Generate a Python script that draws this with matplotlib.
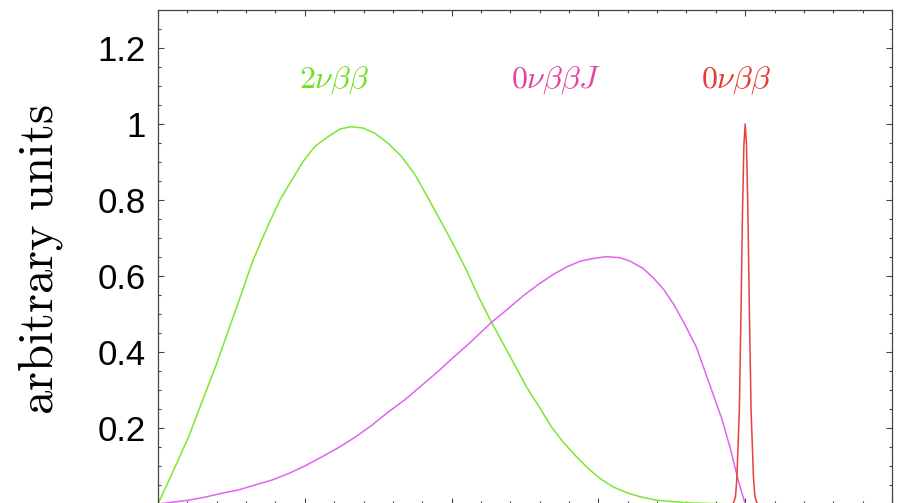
import numpy as np
import matplotlib
matplotlib.use('Agg')
import matplotlib.pyplot as plt
from matplotlib.ticker import MultipleLocator, FuncFormatter

plt.rcParams['mathtext.fontset'] = 'cm'

# energy in units of Q
t_2nu = [0.0, 0.023, 0.052, 0.074, 0.100, 0.131, 0.162, 0.188, 0.208, 0.228, 0.247,
         0.267, 0.290, 0.310, 0.330, 0.350, 0.370, 0.392, 0.415, 0.438, 0.460, 0.483,
         0.503, 0.526, 0.545, 0.568, 0.599, 0.628, 0.651, 0.670, 0.690, 0.713, 0.733,
         0.753, 0.775, 0.798, 0.821, 0.849, 0.900, 0.950, 1.0]
y_2nu = [0.0, 0.077, 0.176, 0.265, 0.370, 0.505, 0.642, 0.735, 0.801, 0.853, 0.901,
         0.941, 0.967, 0.987, 0.993, 0.989, 0.975, 0.949, 0.914, 0.866, 0.805, 0.740,
         0.683, 0.613, 0.548, 0.478, 0.390, 0.307, 0.251, 0.203, 0.163, 0.124, 0.093,
         0.067, 0.045, 0.030, 0.019, 0.010, 0.003, 0.001, 0.0]

t_maj = [0.0, 0.052, 0.080, 0.108, 0.137, 0.165, 0.194, 0.222, 0.250, 0.279, 0.307,
         0.336, 0.364, 0.392, 0.421, 0.449, 0.477, 0.503, 0.526, 0.548, 0.568, 0.594,
         0.622, 0.648, 0.673, 0.696, 0.719, 0.741, 0.764, 0.787, 0.804, 0.826, 0.843,
         0.861, 0.878, 0.897, 0.917, 0.937, 0.960, 0.974, 0.988, 1.0]
y_maj = [0.0, 0.010, 0.018, 0.028, 0.037, 0.050, 0.063, 0.080, 0.100, 0.124, 0.148,
         0.176, 0.207, 0.242, 0.275, 0.312, 0.349, 0.386, 0.417, 0.449, 0.478, 0.511,
         0.548, 0.578, 0.604, 0.624, 0.639, 0.646, 0.651, 0.648, 0.639, 0.620, 0.596,
         0.565, 0.526, 0.473, 0.412, 0.325, 0.225, 0.150, 0.063, 0.0]

t_0nu = [0.975, 0.980, 0.9835, 0.9859, 0.9900, 0.9928, 0.9954, 0.9978, 1.0, 1.0022,
         1.0046, 1.0072, 1.0100, 1.0141, 1.0165, 1.020, 1.025]
y_0nu = [0.0, 0.002, 0.020, 0.070, 0.246, 0.500, 0.770, 0.946, 1.0, 0.946,
         0.770, 0.500, 0.246, 0.070, 0.020, 0.002, 0.0]

green = '#7ee62e'
magenta = '#e163f2'
red = '#e8403a'

fig = plt.figure(figsize=(9.02, 5.03), dpi=100)
ax = fig.add_axes([158/902, 1-504/503, 734/902, 494/503])

ax.plot(t_2nu, y_2nu, color=green, lw=1.1)
ax.plot(t_maj, y_maj, color=magenta, lw=1.1)
ax.plot(t_0nu, y_0nu, color=red, lw=1.1)

ax.text(0.301, 1.095, r'$2\nu\beta\beta$', color='#6fe020', fontsize=23,
        ha='center', va='baseline')
ax.text(0.678, 1.095, r'$0\nu\beta\beta J$', color='#e2459e', fontsize=23,
        ha='center', va='baseline')
ax.text(0.984, 1.095, r'$0\nu\beta\beta$', color='#e63a32', fontsize=23,
        ha='center', va='baseline')

ax.set_xlim(0, 1.25)
ax.set_ylim(0, 1.3)
ax.xaxis.set_major_locator(MultipleLocator(0.25))
ax.xaxis.set_minor_locator(MultipleLocator(0.05))
ax.yaxis.set_major_locator(MultipleLocator(0.2))
ax.yaxis.set_minor_locator(MultipleLocator(0.05))
ax.yaxis.set_major_formatter(FuncFormatter(lambda v, p: '' if abs(v) < 1e-9 else '%g' % v))

ax.tick_params(which='both', direction='in', top=True, right=True, color='#444444',
               width=0.8, labelbottom=False)
ax.tick_params(which='major', length=4.5)
ax.tick_params(which='minor', length=2.3)
ax.tick_params(axis='y', which='major', pad=9, labelsize=25)
for lab in ax.get_yticklabels():
    lab.set_fontfamily('Liberation Sans')
for sp in ax.spines.values():
    sp.set_color('#444444')
    sp.set_linewidth(0.9)

fig.text(41/902, 1-260/503, r'$\mathrm{arbitrary\ units}$', rotation=90,
         fontsize=35, ha='center', va='center')

fig.savefig('out.png', dpi=100)
